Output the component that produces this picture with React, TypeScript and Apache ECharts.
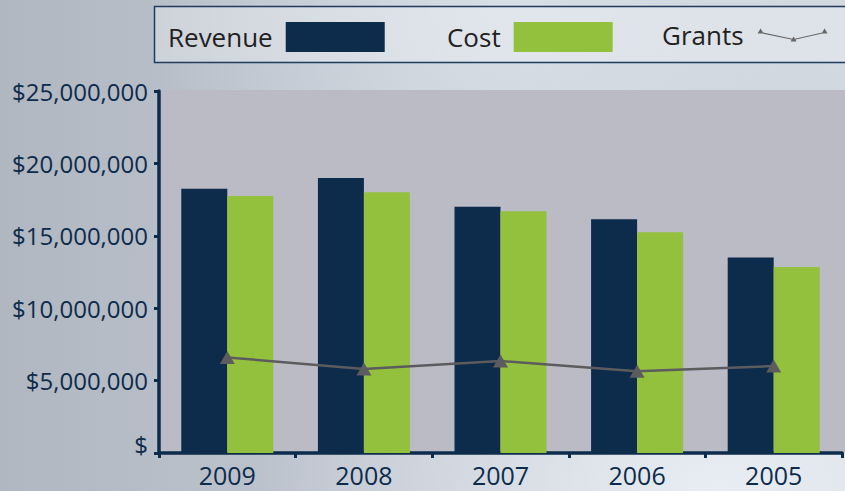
import React, { useEffect, useRef } from "react";
import * as echarts from "echarts";

const years = ["2009", "2008", "2007", "2006", "2005"];
const revenue = [18250000, 19000000, 17000000, 16150000, 13500000];
const cost = [17750000, 18000000, 16700000, 15250000, 12850000];
const grants = [6600000, 5800000, 6350000, 5650000, 6000000];
const yTicks = [0, 5000000, 10000000, 15000000, 20000000, 25000000];

const NAVY = "#0d2b4b";
const GREEN = "#93c13d";
const GRAY = "#5c5c5e";
const TEXT = "#231f20";

const grantsIcon =
  "path://M0 5 L3 0 L6 5 Z M33 13 L36 8 L39 13 Z M64 5 L67 0 L70 5 Z " +
  "M3 3.4 L36 10.4 L36 11.6 L3 4.6 Z M36 10.4 L67 3.4 L67 4.6 L36 11.6 Z";

export default function App() {
  const ref = useRef<HTMLDivElement>(null);
  useEffect(() => {
    document.body.style.margin = "0";
    const chart = echarts.init(ref.current!, null, { renderer: "svg" });
    const font = "'Open Sans', 'Noto Sans', sans-serif";
    const legendBase = {
      top: 22,
      padding: 0,
      itemWidth: 99,
      itemHeight: 30,
      align: "right" as const,
      icon: "rect",
      selectedMode: false,
      textStyle: {
        fontSize: 26,
        color: TEXT,
        fontFamily: font,
        padding: [0, 8, 0, 0],
      },
    };
    chart.setOption({
      animation: false,
      backgroundColor: "transparent",
      textStyle: { fontFamily: font },
      graphic: {
        elements: [
          {
            type: "rect",
            z: -10,
            silent: true,
            shape: { x: 160, y: 90, width: 690, height: 363 },
            style: { fill: "#babbc5" },
          },
          {
            type: "rect",
            z: -10,
            silent: true,
            shape: { x: 154.5, y: 6.5, width: 720, height: 56 },
            style: {
              fill: "rgba(238,242,246,0.4)",
              stroke: "#1f3b5e",
              lineWidth: 1.5,
            },
          },
        ],
      },
      legend: [
        { ...legendBase, left: 168, data: ["Revenue"] },
        { ...legendBase, left: 447, data: ["Cost"] },
        {
          ...legendBase,
          left: 662,
          top: 22,
          itemWidth: 70,
          itemHeight: 14,
          icon: grantsIcon,
          itemStyle: { color: "#666" },
          textStyle: { ...legendBase.textStyle, padding: [0, 9, 0, 0] },
          data: ["Grants"],
        },
      ],
      grid: { left: 159, right: 3, top: 91, bottom: 38 },
      xAxis: {
        type: "category",
        data: years,
        axisLine: { lineStyle: { color: NAVY, width: 3.5 } },
        axisTick: { show: true, length: 5, lineStyle: { color: NAVY, width: 3 } },
        axisLabel: { color: NAVY, fontSize: 25, margin: 9, fontFamily: font },
      },
      yAxis: {
        type: "value",
        min: 0,
        max: 25000000,
        interval: 5000000,
        splitLine: { show: false },
        axisLine: { show: true, lineStyle: { color: NAVY, width: 3.5 } },
        axisTick: { show: true, length: 5, lineStyle: { color: NAVY, width: 3 } },
        axisLabel: {
          color: NAVY,
          fontSize: 24,
          margin: 11,
          fontFamily: font,
          formatter: (v: number) =>
            yTicks.includes(v)
              ? v === 0
                ? "{z|$}"
                : "$" + v.toLocaleString("en-US")
              : "",
          rich: {
            z: {
              color: NAVY,
              fontSize: 24,
              fontFamily: font,
              padding: [0, 0, 18, 0],
            },
          },
        },
      },
      series: [
        {
          name: "Revenue",
          type: "bar",
          data: revenue,
          barWidth: 46,
          barGap: "0%",
          itemStyle: { color: NAVY },
        },
        {
          name: "Cost",
          type: "bar",
          data: cost,
          barWidth: 46,
          barGap: "0%",
          itemStyle: { color: GREEN },
        },
        {
          name: "Grants",
          type: "line",
          data: grants,
          symbol: "triangle",
          symbolSize: [15, 13],
          lineStyle: { color: GRAY, width: 2.5 },
          itemStyle: { color: GRAY },
          z: 5,
        },
      ],
    });
    return () => chart.dispose();
  }, []);
  return (
    <div
      style={{
        position: "absolute",
        left: 0,
        top: 0,
        width: 845,
        height: 491,
        background:
          "radial-gradient(ellipse at 85% 100%, rgba(235,240,246,0.9) 0%, rgba(235,240,246,0) 45%), " +
          "radial-gradient(ellipse at 60% 0%, rgba(225,231,238,0.7) 0%, rgba(225,231,238,0) 50%), " +
          "linear-gradient(90deg, #b0b7c1 0%, #bac0ca 25%, #c6ccd5 60%, #d2d8df 100%)",
      }}
    >
      <div ref={ref} style={{ width: 845, height: 491 }} />
    </div>
  );
}
